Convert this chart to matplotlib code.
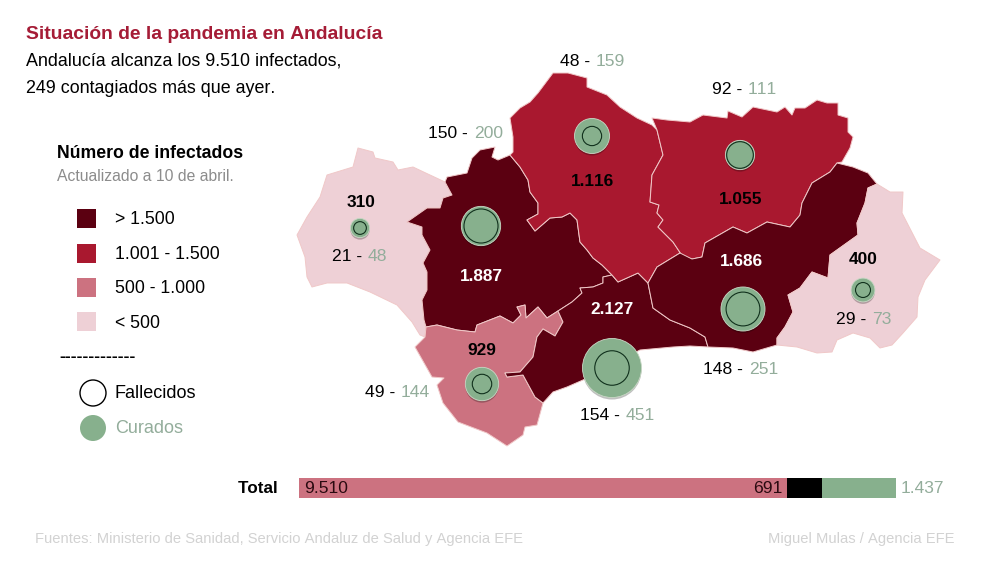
import matplotlib
matplotlib.use("Agg")
import matplotlib.pyplot as plt
from matplotlib.patches import Polygon, Circle, Rectangle
import numpy as np

plt.rcParams['font.family'] = ['Liberation Sans', 'DejaVu Sans']
plt.rcParams['text.kerning_factor'] = 6

# ---------- data ----------
provinces = ["Huelva", "Sevilla", "Cádiz", "Málaga", "Córdoba", "Jaén", "Granada", "Almería"]
infectados = [310, 1887, 929, 2127, 1116, 1055, 1686, 400]
fallecidos = [21, 150, 49, 154, 48, 92, 148, 29]
curados = [48, 200, 144, 451, 159, 111, 251, 73]
infectados_txt = ["310", "1.887", "929", "2.127", "1.116", "1.055", "1.686", "400"]

total_infectados = 9510
total_fallecidos = 691
total_curados = 1437

legend_labels = ["> 1.500", "1.001 - 1.500", "500 - 1.000", "< 500"]

huelva_outline = [(358,148),(373,152),(375,158),(393,162),(398,170),(413,167),(430,175),(445,182),(452,195),
    (443,198),(440,208),(427,208),(407,222),(422,227),(422,235),(430,250),(423,263),(427,272),(427,290),
    (422,300),(424,320),(426,327),(425,337),(420,335),(412,322),(397,305),(370,292),(347,283),(327,283),
    (312,287),(307,277),(305,257),(297,235),(307,217),(320,197),(327,175),(353,167)]
sevilla_outline = [(445,182),(447,177),(467,173),(472,158),(480,150),(495,147),(492,157),(498,160),(510,155),
    (520,167),(528,180),(530,192),(538,203),(538,214),(527,220),(535,231),(550,218),(562,217),(570,213),
    (577,220),(580,242),(587,250),(593,258),(602,265),(612,275),(603,277),(603,283),(593,287),(580,288),
    (582,293),(572,302),(558,311),(547,318),(538,307),(526,318),(525,305),(517,307),(521,315),(513,323),
    (500,316),(477,325),(475,332),(457,330),(437,325),(426,327),(424,320),(422,300),(427,290),(427,272),(423,263),
    (430,250),(422,235),(422,227),(407,222),(427,208),(440,208),(443,198),(452,195)]
cadiz_outline = [(426,327),(437,325),(457,330),(475,332),(477,325),(500,316),(513,323),(521,315),(517,307),
    (525,305),(526,318),(538,307),(547,318),(558,311),(563,322),(555,336),(543,329),(537,337),(533,357),
    (520,372),(505,373),(507,377),(523,375),(535,397),(543,403),(537,425),(525,427),(523,435),(507,446),
    (487,433),(458,422),(443,403),(437,385),(444,378),(432,377),(415,347),(425,337)]
malaga_outline = [(558,311),(572,302),(582,293),(580,288),(593,287),(603,283),(603,277),(612,275),(618,282),
    (638,273),(648,283),(653,308),(670,320),(690,328),(705,337),(708,347),(690,346),(673,347),(640,350),
    (583,380),(567,387),(553,392),(543,403),(535,397),(523,375),(507,377),(505,373),(520,372),(533,357),
    (537,337),(543,329),(555,336),(563,322)]
cordoba_outline = [(553,73),(568,73),(587,78),(587,87),(607,95),(620,107),(637,118),(652,125),(657,130),
    (663,155),(652,175),(650,202),(659,205),(657,213),(663,220),(658,227),(673,242),(683,257),(680,253),
    (657,267),(648,283),(638,273),(618,282),(612,275),(602,265),(593,258),(587,250),(580,242),(577,220),
    (570,213),(562,217),(550,218),(535,231),(527,220),(538,214),(538,203),(530,192),(528,180),(520,167),
    (510,155),(513,152),(513,137),(510,118),(520,108),(530,102),(538,93)]
jaen_outline = [(652,118),(667,120),(690,122),(703,115),(727,118),(728,111),(742,117),(753,107),(777,112),
    (785,107),(792,115),(795,108),(805,108),(817,100),(827,103),(838,103),(838,115),(848,118),(848,132),
    (853,137),(850,148),(842,162),(837,163),(830,172),(812,183),(802,203),(800,215),(790,227),(767,222),
    (747,233),(733,227),(705,243),(702,257),(692,259),(683,257),(673,242),(658,227),(663,220),(657,213),
    (659,205),(650,202),(652,175),(663,155),(657,130)]
granada_outline = [(837,163),(853,167),(868,173),(877,184),(868,188),(865,203),(857,223),(858,235),(830,255),
    (828,278),(812,272),(800,288),(788,295),(793,312),(785,327),(777,338),(777,345),(753,352),(733,348),
    (708,347),(705,337),(690,328),(670,320),(653,308),(648,283),(657,267),(680,253),(692,259),(702,257),
    (705,243),(733,227),(747,233),(767,222),(790,227),(800,215),(802,203),(812,183),(830,172)]
almeria_outline = [(877,184),(890,192),(903,192),(902,213),(920,248),(940,260),(925,280),(918,297),(917,317),
    (903,333),(892,345),(880,348),(870,338),(853,333),(837,340),(832,352),(817,353),(797,347),(777,345),
    (777,338),(785,327),(793,312),(788,295),(800,288),(812,272),(828,278),(830,255),(858,235),(857,223),
    (865,203),(868,188)]
outlines = [huelva_outline, sevilla_outline, cadiz_outline, malaga_outline,
            cordoba_outline, jaen_outline, granada_outline, almeria_outline]

# ---------- layout ----------
C_DARK, C_RED, C_MID, C_LIGHT = "#5b0011", "#a9182f", "#cc7280", "#eed0d6"
C_GREEN, C_GREEN_TXT, C_GREY = "#87b08d", "#93ad9b", "#d2d2d2"
C_TITLE = "#a51c36"

def fs(px):
    return px * 0.72   # px height → pt at dpi 100

def colour_for(v):
    if v > 1500: return C_DARK
    if v > 1000: return C_RED
    if v >= 500: return C_MID
    return C_LIGHT

circle_xy = [(360,228),(481,226),(482,384),(612,368),(592,136),(740,155),(743,309),(863,290)]
value_xy = [(361,201),(481,275),(482,349),(612,308),(592,180),(741,198),(741,260),(863,258)]
pair_xy = [(367,255),(473,132),(400,391),(625,414),(595,60),(747,88),(748,368),(871,318)]
R_K = 1.39

fig = plt.figure(figsize=(10, 5.67), dpi=100)

# total bar
bax = fig.add_axes([299/1000, 1 - 498/567, (896-299)/1000, 20/567], zorder=1)
bax.set_xlim(0, total_infectados + total_fallecidos + total_curados)
bax.set_ylim(0, 1); bax.axis("off")
bax.barh(0.5, total_infectados, height=1, left=0, color=C_MID)
bax.barh(0.5, total_fallecidos, height=1, left=total_infectados, color="black")
bax.barh(0.5, total_curados, height=1, left=total_infectados + total_fallecidos, color=C_GREEN)

ax = fig.add_axes([0, 0, 1, 1], zorder=2)
ax.set_xlim(0, 1000); ax.set_ylim(567, 0); ax.axis("off")
ax.patch.set_alpha(0)

def T(x, y, s, **k):
    k.setdefault("ha", "left")
    ax.text(x, y + 1.5, s, va="center", zorder=6, **k)

for outline, v in zip(outlines, infectados):
    ax.add_patch(Polygon(outline, closed=True, facecolor=colour_for(v),
                         edgecolor="#f0c8c8", linewidth=0.7, joinstyle="round", zorder=2))

for (x, y), f, c in zip(circle_xy, fallecidos, curados):
    rc = R_K * np.sqrt(c); rf = R_K * np.sqrt(f)
    ax.add_patch(Circle((x, y + 2), rc, facecolor="#000000", alpha=0.25, edgecolor="none", zorder=3))
    ax.add_patch(Circle((x, y), rc, facecolor=C_GREEN, edgecolor="#c9d8c6", linewidth=0.6, zorder=4))
    ax.add_patch(Circle((x, y), rf, facecolor="none", edgecolor="#10301c", linewidth=0.8, zorder=5))

for (x, y), v, s in zip(value_xy, infectados, infectados_txt):
    col = "white" if v > 1500 else "black"
    T(x, y, s, ha="center", fontsize=fs(17.2), fontweight="bold", color=col)

for (x, y), f, c in zip(pair_xy, fallecidos, curados):
    T(x, y, f"{f} - ", ha="right", fontsize=fs(17.5), color="black")
    T(x + 1, y, f"{c}", fontsize=fs(17.5), color=C_GREEN_TXT)

# titles
T(26, 33, "Situación de la pandemia en Andalucía", fontsize=fs(19.3), fontweight="bold", color=C_TITLE)
T(26, 60, "Andalucía alcanza los 9.510 infectados,", fontsize=fs(17.9), color="black")
T(26, 87, "249 contagiados más que ayer.", fontsize=fs(17.9), color="black")

# legend
T(57, 152, "Número de infectados", fontsize=fs(17.6), fontweight="bold", color="black")
T(57, 175, "Actualizado a 10 de abril.", fontsize=fs(15.7), color="#8c8c8c")
for lab, col, y in zip(legend_labels, [C_DARK, C_RED, C_MID, C_LIGHT], [218.5, 253, 287, 321.5]):
    ax.add_patch(Rectangle((77, y - 9.5), 19, 19, facecolor=col, edgecolor="none"))
    T(115, y, lab, fontsize=fs(17.6), color="black")
T(59, 355, "-------------", fontsize=fs(17.5), fontweight="bold", color="black")
ax.add_patch(Circle((93, 393), 13, facecolor="white", edgecolor="black", linewidth=1.0))
T(115, 392, "Fallecidos", fontsize=fs(18), color="black")
ax.add_patch(Circle((93, 428), 13, facecolor=C_GREEN, edgecolor="none"))
T(115, 427, "Curados", fontsize=fs(18), color=C_GREEN_TXT)

T(278, 487, "Total", ha="right", fontsize=fs(17), fontweight="bold", color="black")
T(304, 487, "9.510", fontsize=fs(17.5), color="#2a0a10")
T(782, 487, "691", ha="right", fontsize=fs(17.5), color="#2a0a10")
T(901, 487, "1.437", fontsize=fs(17.4), color=C_GREEN_TXT)

# footer
T(35, 537, "Fuentes: Ministerio de Sanidad, Servicio Andaluz de Salud y Agencia EFE", fontsize=fs(14.7), color=C_GREY)
T(955, 537, "Miguel Mulas / Agencia EFE", ha="right", fontsize=fs(14.7), color=C_GREY)

fig.savefig("out.png", dpi=100)
